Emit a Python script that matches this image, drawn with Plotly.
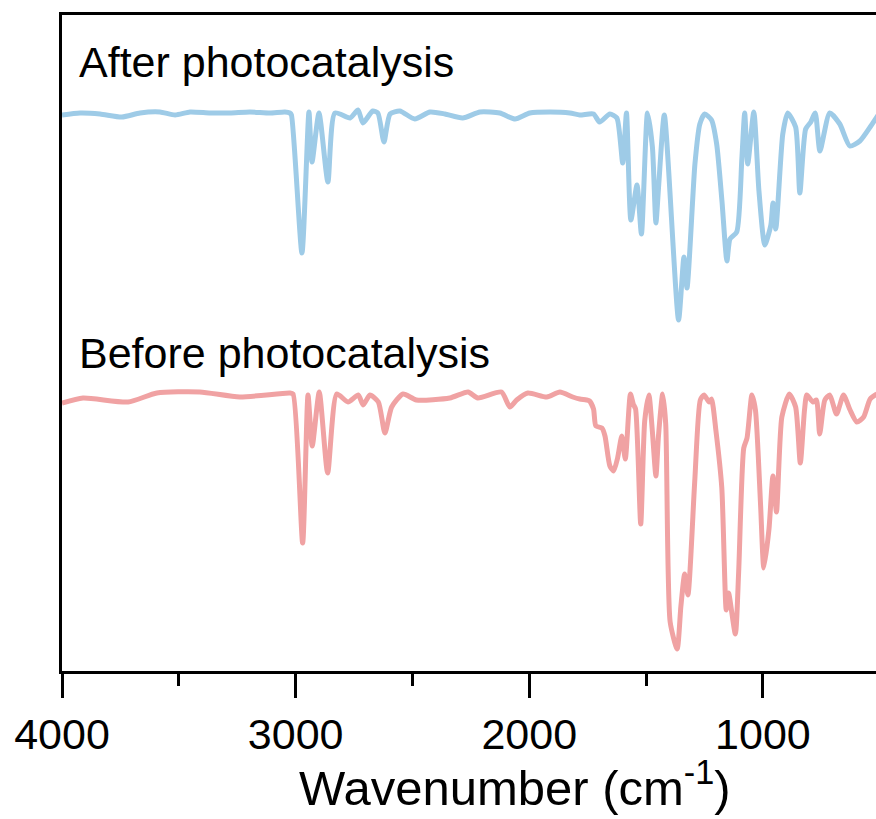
import plotly.graph_objects as go

# Wavenumber (cm-1) and intensity (a.u.)
after_wn = [4000, 3923, 3837, 3744, 3666, 3581, 3516, 3452, 3366, 3281, 3196, 3110, 3046, 3025, 3018,
            2973, 2943, 2930, 2900, 2862, 2832, 2767, 2733, 2712, 2670, 2648, 2622, 2596, 2554, 2490,
            2425, 2361, 2285, 2211, 2126, 2061, 1998, 1911, 1826, 1784, 1725, 1699, 1655, 1625, 1600,
            1584, 1565, 1539, 1520, 1494, 1473, 1458, 1446, 1422, 1361, 1338, 1325, 1291, 1270, 1249,
            1220, 1198, 1175, 1154, 1141, 1112, 1090, 1078, 1065, 1039, 1017, 992, 966, 957, 945,
            915, 894, 860, 842, 817, 795, 776, 756, 714, 671, 628, 585, 541, 504]
after_int = [557, 559, 558, 555, 559, 560, 557, 560, 559, 559, 560, 559, 560, 559, 557,
             419, 560, 510, 559, 490, 559, 554, 562, 549, 561, 559, 530, 558, 561, 553,
             560, 558, 554, 560, 559, 553, 559, 560, 559, 557, 558, 550, 558, 554, 509,
             559, 452, 487, 438, 559, 525, 449, 487, 557, 352, 415, 384, 508, 548, 558,
             552, 528, 470, 411, 433, 440, 514, 559, 508, 560, 481, 427, 447, 469, 443,
             538, 559, 545, 479, 543, 550, 559, 521, 559, 548, 526, 531, 545, 558]

before_wn = [4000, 3910, 3717, 3594, 3410, 3239, 3025, 3011, 2970, 2947, 2929, 2899, 2863, 2824,
             2776, 2732, 2711, 2682, 2646, 2618, 2589, 2540, 2483, 2340, 2262, 2220, 2119, 2083,
             2054, 2006, 1925, 1869, 1814, 1784, 1755, 1742, 1725, 1715, 1689, 1676, 1655, 1639,
             1622, 1604, 1589, 1567, 1555, 1545, 1523, 1506, 1488, 1473, 1458, 1447, 1429, 1416,
             1397, 1367, 1351, 1335, 1321, 1292, 1268, 1252, 1230, 1220, 1201, 1176, 1157, 1147,
             1118, 1104, 1082, 1068, 1047, 1032, 1010, 996, 974, 957, 942, 919, 887, 860, 840,
             822, 812, 786, 771, 757, 735, 714, 685, 655, 627, 598, 569, 541, 512]
before_int = [269, 274, 270, 279, 280, 275, 279, 278, 129, 277, 226, 280, 199, 278,
              270, 277, 267, 277, 270, 239, 265, 278, 272, 274, 280, 274, 280, 265,
              272, 279, 275, 280, 275, 273, 272, 271, 263, 246, 244, 236, 206, 201,
              214, 236, 213, 278, 268, 263, 148, 251, 277, 240, 196, 236, 278, 248,
              50, 23, 66, 98, 77, 190, 272, 277, 270, 273, 241, 184, 62, 79,
              38, 99, 224, 234, 277, 262, 167, 104, 143, 196, 160, 255, 278, 265, 209,
              262, 277, 270, 272, 238, 272, 277, 258, 277, 262, 250, 255, 273, 278]

labels = ["After photocatalysis", "Before photocatalysis"]
colors = ["#9ecbe7", "#f0a2a3"]

fig = go.Figure()
fig.add_trace(go.Scatter(x=after_wn, y=after_int, mode="lines",
                         line=dict(color=colors[0], width=5, shape="spline", smoothing=0.6),
                         showlegend=False))
fig.add_trace(go.Scatter(x=before_wn, y=before_int, mode="lines",
                         line=dict(color=colors[1], width=5, shape="spline", smoothing=0.6),
                         showlegend=False))

font_family = "Arial, Liberation Sans, sans-serif"

fig.add_annotation(text=labels[0], xref="paper", yref="paper", x=0.0184, y=0.889,
                   xanchor="left", yanchor="bottom", showarrow=False,
                   font=dict(family=font_family, size=43, color="black"))
fig.add_annotation(text=labels[1], xref="paper", yref="paper", x=0.0184, y=0.445,
                   xanchor="left", yanchor="bottom", showarrow=False,
                   font=dict(family=font_family, size=43, color="black"))
fig.add_annotation(text="Wavenumber (cm<sup>-1</sup>)", xref="paper", yref="paper",
                   x=0.557, y=-0.2225, xanchor="center", yanchor="bottom", showarrow=False,
                   font=dict(family=font_family, size=49, color="black"))

fig.update_layout(
    width=876, height=819,
    margin=dict(l=62, r=0, t=15, b=148),
    plot_bgcolor="white", paper_bgcolor="white",
    font=dict(family=font_family, color="black"),
)
fig.update_xaxes(range=[4000, 516], showgrid=False, zeroline=False,
                 showline=True, linecolor="black", linewidth=2.7, mirror=True,
                 ticks="outside", ticklen=24, tickwidth=2.7, tickcolor="black",
                 tickvals=[4000, 3000, 2000, 1000], ticktext=["4000", "3000", "2000", "1000"],
                 tickfont=dict(family=font_family, size=43, color="black"),
                 ticklabelstandoff=0,
                 minor=dict(tickvals=[3500, 2500, 1500], ticks="outside", ticklen=12,
                            tickwidth=2.7, tickcolor="black"))
fig.update_yaxes(range=[1, 657], showgrid=False, zeroline=False, showticklabels=False,
                 showline=True, linecolor="black", linewidth=2.7, ticks="")

fig.write_html("out.html")
